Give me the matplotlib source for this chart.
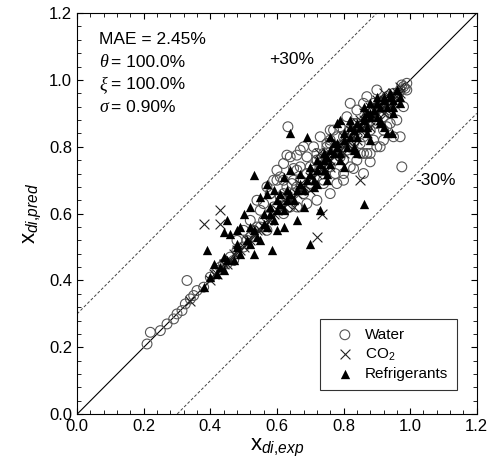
import numpy as np
import matplotlib.pyplot as plt
from matplotlib.ticker import MultipleLocator

plt.rcParams['font.family'] = ['Liberation Sans', 'DejaVu Sans']
plt.rcParams['mathtext.fontset'] = 'custom'
plt.rcParams['mathtext.rm'] = 'Liberation Sans'
plt.rcParams['mathtext.it'] = 'Liberation Sans:italic'

water_x = [0.21, 0.22, 0.25, 0.27, 0.29, 0.30, 0.315, 0.325, 0.34, 0.35, 0.36, 0.33, 0.38,
           0.40, 0.42, 0.43, 0.45, 0.46, 0.47, 0.50, 0.52, 0.53, 0.55, 0.56, 0.57, 0.58,
           0.59, 0.60, 0.62, 0.55, 0.61, 0.63, 0.64, 0.66, 0.67, 0.68, 0.69, 0.56, 0.69,
           0.70, 0.633, 0.63, 0.66, 0.62, 0.65, 0.61, 0.645, 0.70, 0.74, 0.78, 0.775, 0.80,
           0.85, 0.87, 0.85, 0.76, 0.82, 0.90, 0.97, 0.94, 0.95, 0.975, 0.83, 0.88, 0.77,
           0.76, 0.60, 0.58, 0.68, 0.72, 0.75, 0.71, 0.73, 0.74, 0.76, 0.78, 0.79, 0.80,
           0.81, 0.82, 0.83, 0.84, 0.86, 0.87, 0.88, 0.89, 0.90, 0.91, 0.92, 0.93, 0.94,
           0.95, 0.96, 0.97, 0.98, 0.99, 0.985, 0.975, 0.965, 0.48, 0.44, 0.51, 0.54, 0.57,
           0.62, 0.65, 0.67, 0.72, 0.89, 0.92, 0.84, 0.91, 0.86, 0.80, 0.74,
           0.58, 0.59, 0.60, 0.62, 0.64, 0.66, 0.67, 0.69, 0.71, 0.72, 0.73, 0.75, 0.76,
           0.78, 0.79, 0.81, 0.83, 0.84, 0.86, 0.87, 0.89, 0.57, 0.54, 0.52, 0.50, 0.48,
           0.63, 0.65, 0.70, 0.86, 0.88, 0.90, 0.92, 0.93, 0.96, 0.98, 0.94, 0.82, 0.80,
           0.76, 0.72, 0.66, 0.99]
water_y = [0.21, 0.245, 0.25, 0.27, 0.285, 0.30, 0.31, 0.33, 0.345, 0.355, 0.37, 0.40, 0.38,
           0.41, 0.43, 0.44, 0.45, 0.47, 0.46, 0.50, 0.53, 0.55, 0.56, 0.58, 0.55, 0.60,
           0.62, 0.62, 0.60, 0.61, 0.65, 0.64, 0.62, 0.68, 0.70, 0.66, 0.72, 0.63, 0.63,
           0.69, 0.86, 0.775, 0.775, 0.75, 0.735, 0.71, 0.69, 0.69, 0.69, 0.69, 0.72, 0.72,
           0.78, 0.78, 0.81, 0.81, 0.93, 0.97, 0.83, 0.87, 0.83, 0.74, 0.735, 0.755, 0.85,
           0.82, 0.70, 0.66, 0.80, 0.76, 0.80, 0.73, 0.75, 0.78, 0.74, 0.80, 0.77, 0.83,
           0.79, 0.85, 0.81, 0.87, 0.83, 0.89, 0.85, 0.91, 0.87, 0.93, 0.89, 0.95, 0.91,
           0.96, 0.95, 0.97, 0.98, 0.99, 0.975, 0.985, 0.96, 0.49, 0.45, 0.52, 0.56, 0.59,
           0.66, 0.70, 0.74, 0.78, 0.82, 0.85, 0.76, 0.80, 0.78, 0.76, 0.70,
           0.66, 0.70, 0.73, 0.70, 0.77, 0.73, 0.79, 0.77, 0.80, 0.76, 0.83, 0.81, 0.85,
           0.83, 0.86, 0.89, 0.87, 0.91, 0.93, 0.95, 0.93, 0.68, 0.64, 0.58, 0.55, 0.52,
           0.68, 0.66, 0.74, 0.72, 0.78, 0.80, 0.82, 0.86, 0.88, 0.92, 0.90, 0.74, 0.70,
           0.66, 0.64, 0.62, 0.97]

co2_x = [0.34, 0.40, 0.42, 0.44, 0.46, 0.48, 0.50, 0.52, 0.54, 0.56, 0.58, 0.60, 0.62, 0.64,
         0.66, 0.68, 0.70, 0.72, 0.74, 0.76, 0.78, 0.80, 0.82, 0.84, 0.86, 0.88, 0.90, 0.92,
         0.94, 0.96, 0.75, 0.80, 0.85, 0.88, 0.90, 0.92, 0.83, 0.87, 0.91, 0.93, 0.86, 0.79,
         0.70, 0.65, 0.38, 0.43, 0.43, 0.72, 0.735, 0.85, 0.726, 0.47, 0.53, 0.57, 0.61, 0.67,
         0.71, 0.77, 0.81, 0.89, 0.95, 0.97, 0.63, 0.59, 0.51,
         0.73, 0.77, 0.81, 0.83, 0.85, 0.87, 0.89, 0.91, 0.93, 0.95, 0.97, 0.78, 0.82, 0.84,
         0.86, 0.88, 0.90, 0.92, 0.76, 0.80, 0.84, 0.88, 0.92, 0.96, 0.69, 0.67, 0.63, 0.55,
         0.49, 0.45, 0.41]
co2_y = [0.34, 0.40, 0.42, 0.45, 0.46, 0.49, 0.50, 0.52, 0.55, 0.56, 0.58, 0.61, 0.62, 0.64,
         0.66, 0.68, 0.71, 0.72, 0.74, 0.76, 0.79, 0.80, 0.82, 0.85, 0.86, 0.88, 0.90, 0.92,
         0.95, 0.96, 0.78, 0.83, 0.88, 0.92, 0.94, 0.96, 0.80, 0.84, 0.88, 0.91, 0.90, 0.76,
         0.67, 0.62, 0.57, 0.61, 0.57, 0.53, 0.60, 0.70, 0.78, 0.48, 0.54, 0.58, 0.62, 0.69,
         0.73, 0.78, 0.82, 0.91, 0.93, 0.96, 0.65, 0.60, 0.52,
         0.75, 0.77, 0.81, 0.84, 0.85, 0.87, 0.89, 0.91, 0.93, 0.96, 0.98, 0.80, 0.85, 0.87,
         0.88, 0.90, 0.92, 0.94, 0.74, 0.78, 0.82, 0.86, 0.90, 0.94, 0.70, 0.67, 0.63, 0.55,
         0.49, 0.45, 0.42]

refr_x = [0.39, 0.53, 0.585, 0.53, 0.70, 0.73, 0.86, 0.93, 0.945, 0.48, 0.50, 0.52, 0.55,
          0.57, 0.46, 0.49, 0.66, 0.60, 0.62, 0.55, 0.64, 0.69, 0.76, 0.79, 0.82, 0.78,
          0.86, 0.90, 0.88, 0.68, 0.75, 0.80, 0.84, 0.88, 0.92, 0.95, 0.97,
          0.38, 0.40, 0.42, 0.43, 0.44, 0.45, 0.47, 0.48, 0.49, 0.51, 0.52, 0.53, 0.54,
          0.56, 0.57, 0.58, 0.59, 0.60, 0.61, 0.62, 0.63, 0.64, 0.65, 0.66, 0.67, 0.68,
          0.69, 0.70, 0.71, 0.72, 0.73, 0.74, 0.75, 0.76, 0.77, 0.78, 0.79, 0.80, 0.81,
          0.82, 0.83, 0.84, 0.85, 0.86, 0.87, 0.88, 0.89, 0.90, 0.91, 0.92, 0.93, 0.94,
          0.95, 0.96, 0.97, 0.58, 0.61, 0.67, 0.72, 0.77, 0.83, 0.87, 0.91, 0.63, 0.74,
          0.70, 0.72, 0.74, 0.76, 0.78, 0.80, 0.82, 0.84, 0.86, 0.88, 0.90, 0.92, 0.94,
          0.96, 0.71, 0.75, 0.79, 0.83, 0.87, 0.91, 0.95, 0.60, 0.56, 0.52, 0.48, 0.44,
          0.41, 0.59, 0.62, 0.64, 0.45, 0.44, 0.57]
refr_y = [0.49, 0.715, 0.49, 0.48, 0.51, 0.61, 0.63, 0.84, 0.84, 0.55, 0.60, 0.62, 0.65,
          0.66, 0.54, 0.56, 0.58, 0.55, 0.56, 0.52, 0.84, 0.83, 0.83, 0.88, 0.88, 0.87,
          0.92, 0.95, 0.93, 0.62, 0.70, 0.74, 0.78, 0.82, 0.86, 0.90, 0.93,
          0.38, 0.41, 0.42, 0.44, 0.43, 0.46, 0.46, 0.50, 0.48, 0.52, 0.51, 0.55, 0.53,
          0.57, 0.56, 0.60, 0.58, 0.61, 0.63, 0.61, 0.64, 0.66, 0.64, 0.67, 0.69, 0.67,
          0.70, 0.72, 0.70, 0.73, 0.75, 0.73, 0.77, 0.75, 0.78, 0.80, 0.78, 0.82, 0.80,
          0.83, 0.85, 0.83, 0.86, 0.88, 0.86, 0.89, 0.91, 0.89, 0.92, 0.94, 0.92, 0.95,
          0.94, 0.97, 0.95, 0.62, 0.66, 0.72, 0.69, 0.81, 0.79, 0.90, 0.88, 0.67, 0.78,
          0.74, 0.76, 0.76, 0.79, 0.81, 0.84, 0.86, 0.87, 0.89, 0.90, 0.93, 0.95, 0.96,
          0.97, 0.68, 0.72, 0.76, 0.80, 0.84, 0.87, 0.92, 0.64, 0.60, 0.56, 0.51, 0.47,
          0.45, 0.67, 0.71, 0.73, 0.58, 0.545, 0.69]

fig = plt.figure(figsize=(4.91, 4.68), dpi=100)
ax = fig.add_axes([0.157, 0.115, 0.814, 0.857])

# lineas de referencia
lin = np.array([0.0, 1.2])
ax.plot(lin, lin, color='black', lw=0.8, zorder=1)
ax.plot(lin, lin + 0.3, color='#444444', lw=0.7, ls=(0, (3, 2)), zorder=1)
ax.plot(lin, lin - 0.3, color='#444444', lw=0.7, ls=(0, (3, 2)), zorder=1)

ax.scatter(water_x, water_y, s=50, facecolors='none', edgecolors='#555555',
           linewidths=0.8, label='Water', zorder=2)
ax.scatter(co2_x, co2_y, s=50, marker='x', color='#222222', linewidths=0.8,
           label='CO$_2$', zorder=3)
ax.scatter(refr_x, refr_y, s=45, marker='^', color='black', linewidths=0,
           label='Refrigerants', zorder=4)

ax.set_xlim(0, 1.2)
ax.set_ylim(0, 1.2)
ax.xaxis.set_major_locator(MultipleLocator(0.2))
ax.yaxis.set_major_locator(MultipleLocator(0.2))
ax.xaxis.set_minor_locator(MultipleLocator(0.04))
ax.yaxis.set_minor_locator(MultipleLocator(0.04))
ax.xaxis.set_major_formatter(plt.FormatStrFormatter('%.1f'))
ax.yaxis.set_major_formatter(plt.FormatStrFormatter('%.1f'))
ax.tick_params(which='both', direction='in', top=True, right=True, labelsize=12)
ax.tick_params(which='major', length=4, width=0.8)
ax.tick_params(which='minor', length=3, width=0.6)
for sp in ax.spines.values():
    sp.set_linewidth(0.8)

ax.set_xlabel(r'$\mathrm{x}_{di{,}exp}$', fontsize=16, labelpad=2)
ax.set_ylabel(r'$\mathrm{x}_{di{,}pred}$', fontsize=16, labelpad=4)

# texto de estadisticas
ax.text(0.055, 0.935, 'MAE = 2.45%', transform=ax.transAxes, fontsize=12.5, va='center')
stats = [('θ', '= 100.0%'), ('ξ', '= 100.0%'), ('σ', '= 0.90%')]
for i, (sym, val) in enumerate(stats):
    yy = 0.878 - i * 0.057
    ax.text(0.055, yy, sym, transform=ax.transAxes, fontsize=13, va='center',
            family='Liberation Serif', style='italic')
    ax.text(0.085, yy, val, transform=ax.transAxes, fontsize=12.5, va='center')

ax.text(0.577, 1.06, '+30%', fontsize=12.5, va='center')
ax.text(1.015, 0.70, '-30%', fontsize=12.5, va='center')

leg = ax.legend(loc='lower right', fontsize=11, frameon=True, fancybox=False,
                edgecolor='black', borderpad=0.6, handletextpad=0.3,
                labelspacing=0.3, bbox_to_anchor=(0.97, 0.04))
leg.get_frame().set_linewidth(0.8)

fig.savefig('out.png', dpi=100)
